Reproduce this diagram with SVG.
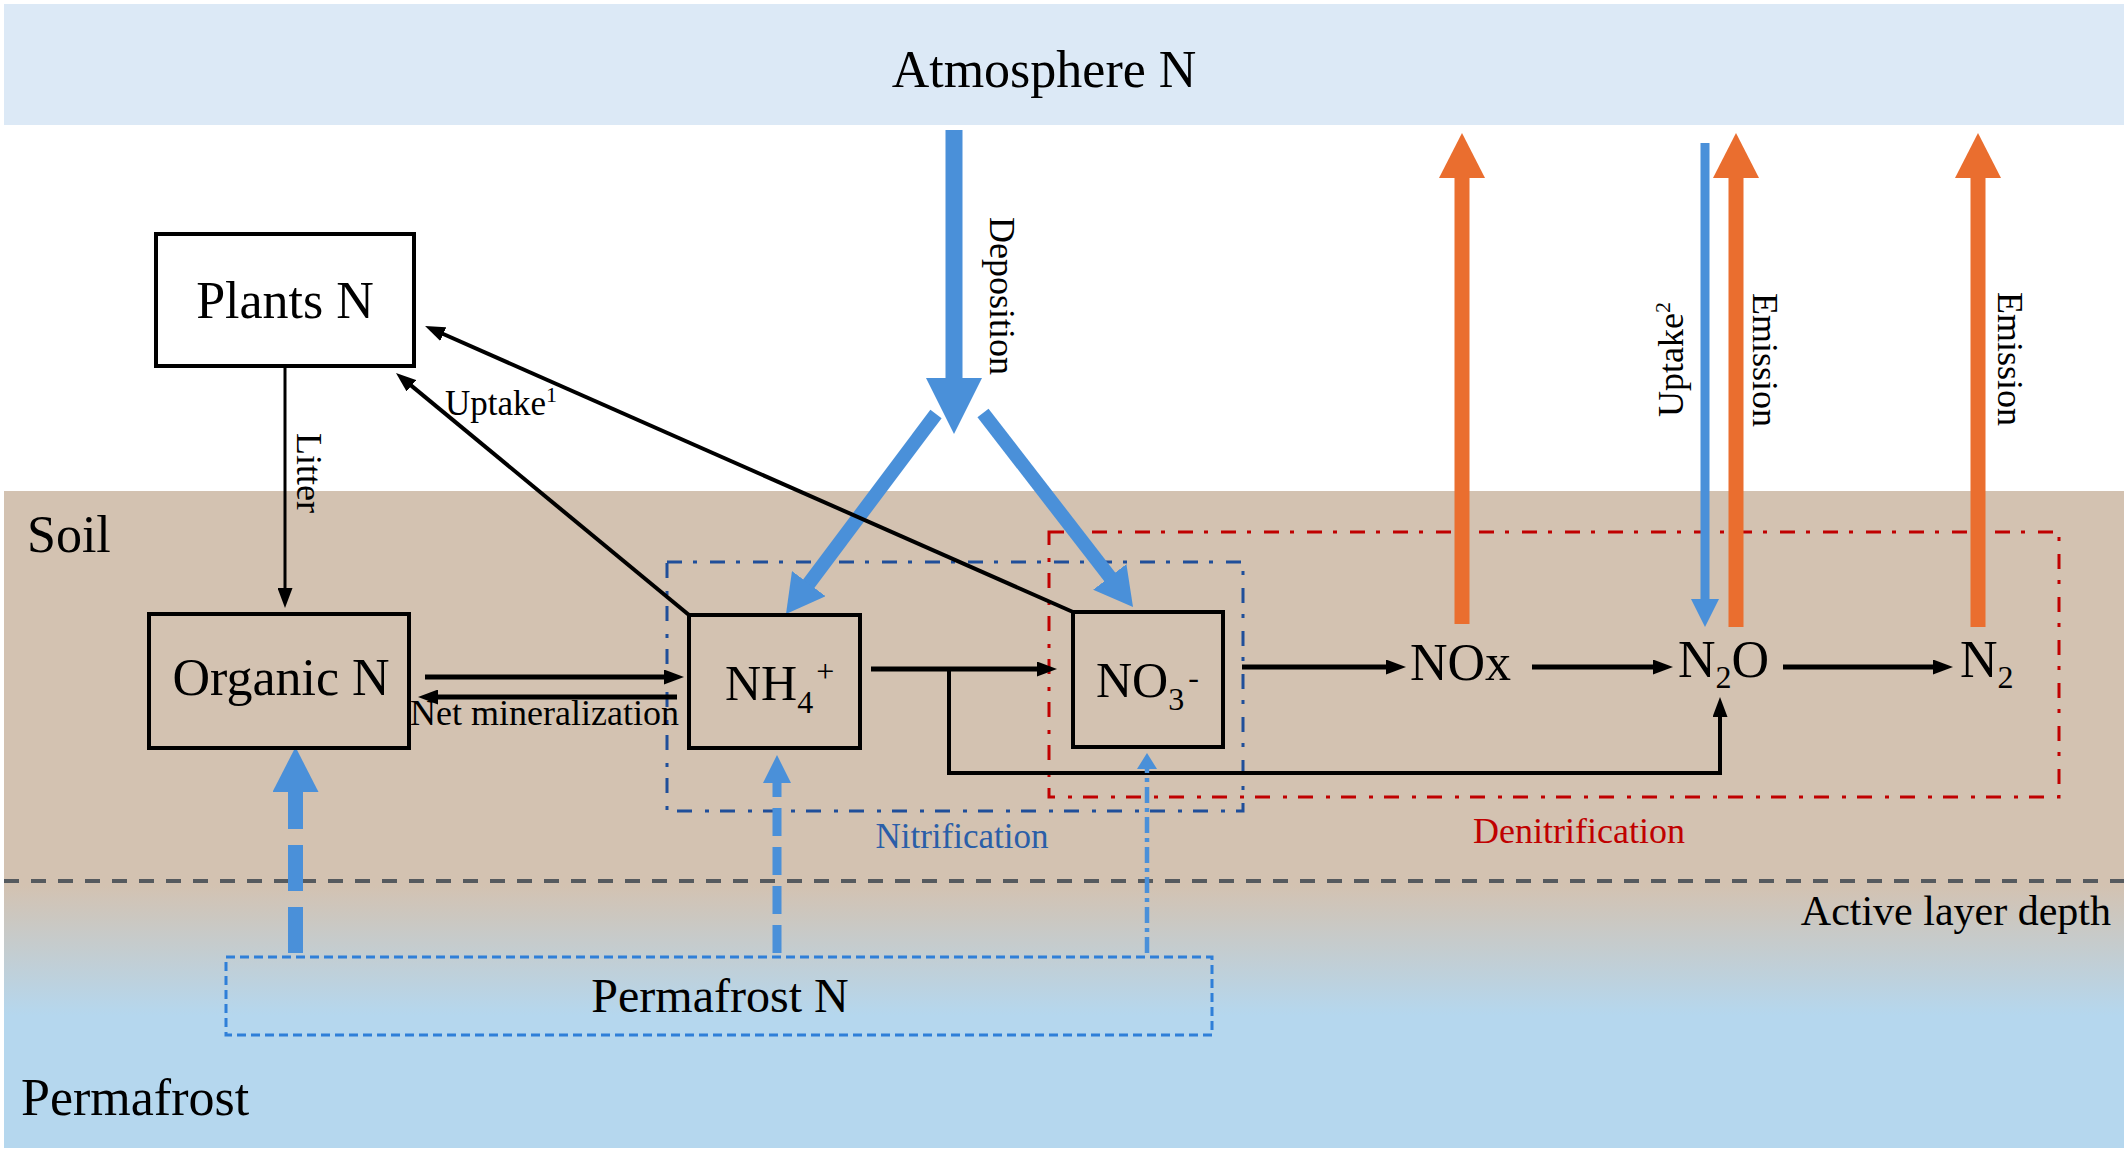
<svg xmlns="http://www.w3.org/2000/svg" width="2128" height="1154" viewBox="0 0 2128 1154">
<style>
  text { font-family: "Liberation Serif", "Times New Roman", serif; fill: #000; }
  .big { font-size: 52px; }
  .mid { font-size: 36px; }
  .box { fill: none; stroke: #000; stroke-width: 4; }
  .ln { fill: none; stroke: #000; stroke-width: 5; marker-end: url(#ah); }
  .ln4 { fill: none; stroke: #000; stroke-width: 4; marker-end: url(#ah); }
  .ln3 { fill: none; stroke: #000; stroke-width: 3; marker-end: url(#ah); }
  .blue { stroke: #4a90d9; fill: none; }
  .orange { stroke: #ea6e2f; stroke-width: 15; fill: none; marker-end: url(#oh); }
</style>
<defs>
  <linearGradient id="ground" gradientUnits="userSpaceOnUse" x1="0" y1="885" x2="0" y2="1015">
    <stop offset="0" stop-color="#d3c2b1"/>
    <stop offset="1" stop-color="#b5d7ee"/>
  </linearGradient>
  <marker id="ah" markerUnits="userSpaceOnUse" markerWidth="20" markerHeight="15" refX="10" refY="7.5" orient="auto">
    <path d="M0,0 L20,7.5 L0,15 Z" fill="#000"/>
  </marker>
  <marker id="bh" markerUnits="userSpaceOnUse" markerWidth="38" markerHeight="42" refX="2" refY="21" orient="auto">
    <path d="M0,0 L38,21 L0,42 Z" fill="#4a90d9"/>
  </marker>
  <marker id="bh45" markerUnits="userSpaceOnUse" markerWidth="45" markerHeight="46" refX="2" refY="23" orient="auto">
    <path d="M0,0 L45,23 L0,46 Z" fill="#4a90d9"/>
  </marker>
  <marker id="bh28" markerUnits="userSpaceOnUse" markerWidth="28" markerHeight="28" refX="2" refY="14" orient="auto">
    <path d="M0,0 L28,14 L0,28 Z" fill="#4a90d9"/>
  </marker>
  <marker id="bh16" markerUnits="userSpaceOnUse" markerWidth="16" markerHeight="20" refX="2" refY="10" orient="auto">
    <path d="M0,0 L16,10 L0,20 Z" fill="#4a90d9"/>
  </marker>
  <marker id="oh" markerUnits="userSpaceOnUse" markerWidth="45" markerHeight="46" refX="2" refY="23" orient="auto">
    <path d="M0,0 L45,23 L0,46 Z" fill="#ea6e2f"/>
  </marker>
</defs>

<g id="background">
  <rect x="0" y="0" width="2128" height="1154" fill="#fff"/>
  <rect x="4" y="4" width="2120" height="121" fill="#dce9f6"/>
  <rect x="4" y="491" width="2120" height="657" fill="url(#ground)"/>
  <line x1="4" y1="881" x2="2124" y2="881" stroke="#565a5e" stroke-width="4" stroke-dasharray="15 12"/>
</g>

<g id="zones">
  <g id="nitrification">
    <rect x="667" y="562" width="576" height="249" fill="none" stroke="#1f4e9a" stroke-width="3" stroke-dasharray="15 11 4 13"/>
    <text x="962" y="848" text-anchor="middle" style="font-size:35px; fill:#2a5ea8">Nitrification</text>
  </g>
  <g id="denitrification">
    <rect x="1049" y="532" width="1010" height="265" fill="none" stroke="#c00000" stroke-width="3" stroke-dasharray="15 11 4 13"/>
    <text x="1579" y="843" text-anchor="middle" class="mid" style="fill:#c00000">Denitrification</text>
  </g>
</g>

<g id="connectors">
  <!-- deposition -->
  <path d="M945.5,130 H962.5 V378 H982 L954,434 L926,378 H945.5 Z" fill="#4a90d9"/>
  <line x1="936" y1="414" x2="807.6" y2="585.2" class="blue" stroke-width="14" marker-end="url(#bh)"/>
  <line x1="983" y1="413" x2="1111" y2="578.5" class="blue" stroke-width="14" marker-end="url(#bh)"/>
  <!-- emissions -->
  <line x1="1462" y1="624" x2="1462" y2="176" class="orange"/>
  <line x1="1736" y1="627" x2="1736" y2="176" class="orange"/>
  <line x1="1978" y1="627" x2="1978" y2="176" class="orange"/>
  <!-- uptake 2 -->
  <line x1="1705" y1="143" x2="1705" y2="601" class="blue" stroke-width="9" marker-end="url(#bh28)"/>
  <!-- plant related -->
  <line x1="285" y1="366" x2="285" y2="598" class="ln3"/>
  <line x1="689" y1="615" x2="403.7" y2="379.4" class="ln4"/>
  <line x1="1073" y1="612" x2="434.2" y2="330" class="ln4"/>
  <!-- mineralization -->
  <line x1="425" y1="677" x2="674" y2="677" class="ln"/>
  <line x1="677" y1="697" x2="428" y2="697" class="ln"/>
  <!-- nitrification / denitrification chain -->
  <line x1="871" y1="669" x2="1047" y2="669" class="ln"/>
  <path d="M949,669 V773 H1720 V707" class="ln4"/>
  <line x1="1242" y1="667" x2="1396" y2="667" class="ln"/>
  <line x1="1532" y1="667" x2="1663" y2="667" class="ln"/>
  <line x1="1783" y1="667" x2="1943" y2="667" class="ln"/>
  <!-- permafrost supply -->
  <line x1="295.5" y1="953" x2="295.5" y2="790" class="blue" stroke-width="15" stroke-dasharray="46 16" marker-end="url(#bh45)"/>
  <line x1="777" y1="953" x2="777" y2="781" class="blue" stroke-width="9" stroke-dasharray="28 11" marker-end="url(#bh28)"/>
  <line x1="1147" y1="953" x2="1147" y2="767" class="blue" stroke-width="4.5" stroke-dasharray="16 5 4 5" marker-end="url(#bh16)"/>
</g>

<g id="labels">
  <text x="297" y="433" class="mid" transform="rotate(90 297 433)">Litter</text>
  <text x="445" y="415" style="font-size:35px">Uptake<tspan style="font-size:22px" dy="-13">1</tspan></text>
  <text x="990" y="217" class="mid" transform="rotate(90 990 217)">Deposition</text>
  <text x="1683" y="417" class="mid" transform="rotate(-90 1683 417)">Uptake<tspan style="font-size:22px" dy="-13">2</tspan></text>
  <text x="1753" y="293" class="mid" transform="rotate(90 1753 293)">Emission</text>
  <text x="1998" y="292" class="mid" transform="rotate(90 1998 292)">Emission</text>
  <text x="410" y="725" class="mid">Net mineralization</text>
  <text x="27" y="552" class="big">Soil</text>
  <text x="2111" y="925" text-anchor="end" style="font-size:42px">Active layer depth</text>
  <text x="21" y="1115" class="big">Permafrost</text>
</g>

<g id="atmosphere-n">
  <text x="1044" y="87" text-anchor="middle" class="big">Atmosphere N</text>
</g>

<g id="plants-n">
  <rect x="156" y="234" width="258" height="132" fill="#fff" stroke="#000" stroke-width="4"/>
  <text x="285" y="318" text-anchor="middle" class="big">Plants N</text>
</g>

<g id="organic-n">
  <rect x="149" y="614" width="260" height="134" class="box"/>
  <text x="281" y="695" text-anchor="middle" class="big">Organic N</text>
</g>

<g id="nh4">
  <rect x="689" y="615" width="171" height="133" class="box"/>
  <text x="725" y="700" style="font-size:50px">NH<tspan style="font-size:32px" dy="13">4</tspan><tspan style="font-size:32px" dx="3" dy="-31">+</tspan></text>
</g>

<g id="no3">
  <rect x="1073" y="612" width="150" height="135" class="box"/>
  <text x="1096" y="697" style="font-size:50px">NO<tspan style="font-size:32px" dy="13">3</tspan><tspan style="font-size:32px" dx="4" dy="-22">-</tspan></text>
</g>

<g id="nox">
  <text x="1410" y="680" class="big">NOx</text>
</g>

<g id="n2o">
  <text x="1678" y="677" class="big">N<tspan style="font-size:32px" dy="11">2</tspan><tspan dy="-11">O</tspan></text>
</g>

<g id="n2">
  <text x="1960" y="677" class="big">N<tspan style="font-size:32px" dy="11">2</tspan></text>
</g>

<g id="permafrost-n">
  <rect x="226" y="957" width="986" height="78" fill="none" stroke="#2f7fd8" stroke-width="3" stroke-dasharray="9 5"/>
  <text x="720" y="1012" text-anchor="middle" style="font-size:48px">Permafrost N</text>
</g>
</svg>
